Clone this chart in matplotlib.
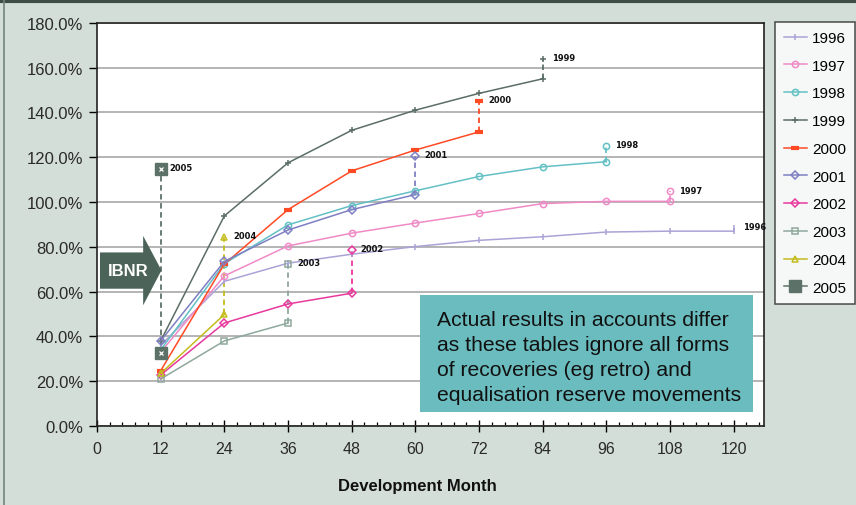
import matplotlib
matplotlib.use("Agg")
import matplotlib.pyplot as plt
from matplotlib.patches import Polygon, Rectangle
from matplotlib.lines import Line2D
from matplotlib.ticker import MultipleLocator, FuncFormatter

plt.rcParams['font.family'] = ['Liberation Sans', 'DejaVu Sans']

months = [12, 24, 36, 48, 60, 72, 84, 96, 108, 120]
years = ['1996', '1997', '1998', '1999', '2000', '2001', '2002', '2003', '2004', '2005']

# cumulative loss ratio (%) by underwriting year
v1996 = [36, 64.6, 72.7, 76.7, 80.1, 82.9, 84.5, 86.6, 87, 87]
v1997 = [33, 67, 80.4, 86.1, 90.6, 94.9, 99.3, 100.3, 100.3]
v1998 = [34, 72.5, 89.8, 98.4, 105, 111.4, 115.7, 118]
v1999 = [38, 93.8, 117.5, 132, 141, 148.5, 155]
v2000 = [24.7, 72.3, 96.6, 113.9, 123.2, 131.3]
v2001 = [38, 73.5, 87.5, 96.6, 103.3]
v2002 = [22.8, 46, 54.5, 59.3]
v2003 = [21, 38, 46]
v2004 = [23.5, 49.8]
v2005 = [32.8]

# projected ultimate (%) per year, shown at last development point
ultimate = [88.5, 104.7, 125, 164, 145, 120.6, 78.6, 72.3, 84.5, 114.8]

series = [v1996, v1997, v1998, v1999, v2000, v2001, v2002, v2003, v2004, v2005]
colors = ['#aaa3d6', '#f08ac6', '#63c0c4', '#5b6e65', '#ff4a24',
          '#7f7fc4', '#e8399e', '#8fa89c', '#c4bc1c', '#5c7268']
markers = ['|', 'o', 'o', '+', '_', 'D', 'D', 's', '^', 's']

fig = plt.figure(figsize=(8.56, 5.06), dpi=100)
fig.patch.set_facecolor('#d4ded9')
ax = fig.add_axes([0.1133, 0.156, 0.7792, 0.797])
ax.set_facecolor('white')

for i, vals in enumerate(series):
    xs = months[:len(vals)]
    c = colors[i]
    m = markers[i]
    kw = dict(marker=m, ms=4.5, mew=1.1, mfc='none', mec=c)
    if m == '_':
        kw = dict(marker=m, ms=6, mew=3, mec=c)
    if i == 9:
        kw = dict(marker='s', ms=8, mfc=c, mec=c)
    ax.plot(xs, vals, color=c, lw=1.1, label=years[i], zorder=3, **kw)
    # dashed move from latest value to projected ultimate
    ax.plot([xs[-1], xs[-1]], [vals[-1], ultimate[i]], color=c, lw=1.3,
            ls=(0, (3, 2)), zorder=2)
    ax.plot([xs[-1]], [ultimate[i]], color=c, ls='none', zorder=3, **kw)
    if i == 9:
        ax.plot([xs[-1], xs[-1]], [vals[-1], ultimate[i]], ls='none',
                marker='x', ms=3.5, mew=0.9, color='white', zorder=4)
    ax.annotate(years[i], (xs[-1], ultimate[i]), xytext=(6.5, 1),
                textcoords='offset points', ha='left', va='center',
                fontsize=6, fontweight='bold', family='DejaVu Sans',
                color='#111111', zorder=5)

ax.set_xlim(0, 125.7)
ax.set_ylim(0, 180)
ax.xaxis.set_major_locator(MultipleLocator(12))
ax.xaxis.set_minor_locator(MultipleLocator(2.4))
ax.yaxis.set_major_locator(MultipleLocator(20))
ax.yaxis.set_major_formatter(FuncFormatter(lambda v, p: f'{v:.1f}%'))
ax.grid(axis='y', color='#b4b4b4', lw=1.4, zorder=0)
ax.set_axisbelow(True)
for s in ax.spines.values():
    s.set_color('#222222')
    s.set_linewidth(1.2)
ax.tick_params(axis='x', which='major', direction='inout', length=8,
               width=1, pad=7, labelsize=11.5, labelcolor='#2a2a2a')
ax.tick_params(axis='x', which='minor', direction='in', length=3, width=0.9)
ax.tick_params(axis='y', direction='out', length=6, width=1, pad=4,
               labelsize=12, labelcolor='#2a2a2a')

# IBNR arrow
arrow = Polygon([(0.56, 61.3), (8.7, 61.3), (8.7, 53.9), (12.15, 69.5),
                 (8.7, 84.9), (8.7, 77.5), (0.56, 77.5)],
                closed=True, fc='#4b6358', ec='none', zorder=4)
ax.add_patch(arrow)
ax.text(5.9, 69.3, 'IBNR', color='white', fontsize=12, fontweight='bold',
        ha='center', va='center', zorder=5)

# note box
fig.add_artist(Rectangle((0.4907, 0.1838), 0.389, 0.2312,
                         transform=fig.transFigure, fc='#6bbcbf', ec='none',
                         zorder=5))
fig.text(0.5105, 0.2925,
         'Actual results in accounts differ\n'
         'as these tables ignore all forms\n'
         'of recoveries (eg retro) and\n'
         'equalisation reserve movements',
         ha='left', va='center', fontsize=15.2, color='#111111',
         linespacing=1.4, zorder=6)

fig.text(0.488, 0.039, 'Development Month', ha='center', va='center',
         fontsize=12, fontweight='bold', color='#111111')

leg = fig.legend(loc='upper left', bbox_to_anchor=(0.905, 0.955),
                 fontsize=11, frameon=True, fancybox=False, numpoints=1,
                 handlelength=1.5, handletextpad=0.35, labelspacing=0.9,
                 borderpad=0.6, borderaxespad=0)
leg.get_frame().set_edgecolor('#222222')
leg.get_frame().set_linewidth(1.1)

fig.add_artist(Line2D([0, 1], [0.997, 0.997], transform=fig.transFigure,
                      color='#3e4e47', lw=3))
fig.add_artist(Line2D([0.005, 0.005], [0, 1], transform=fig.transFigure,
                      color='#75857d', lw=1.2))

fig.savefig('out.png', dpi=100, facecolor=fig.get_facecolor())
